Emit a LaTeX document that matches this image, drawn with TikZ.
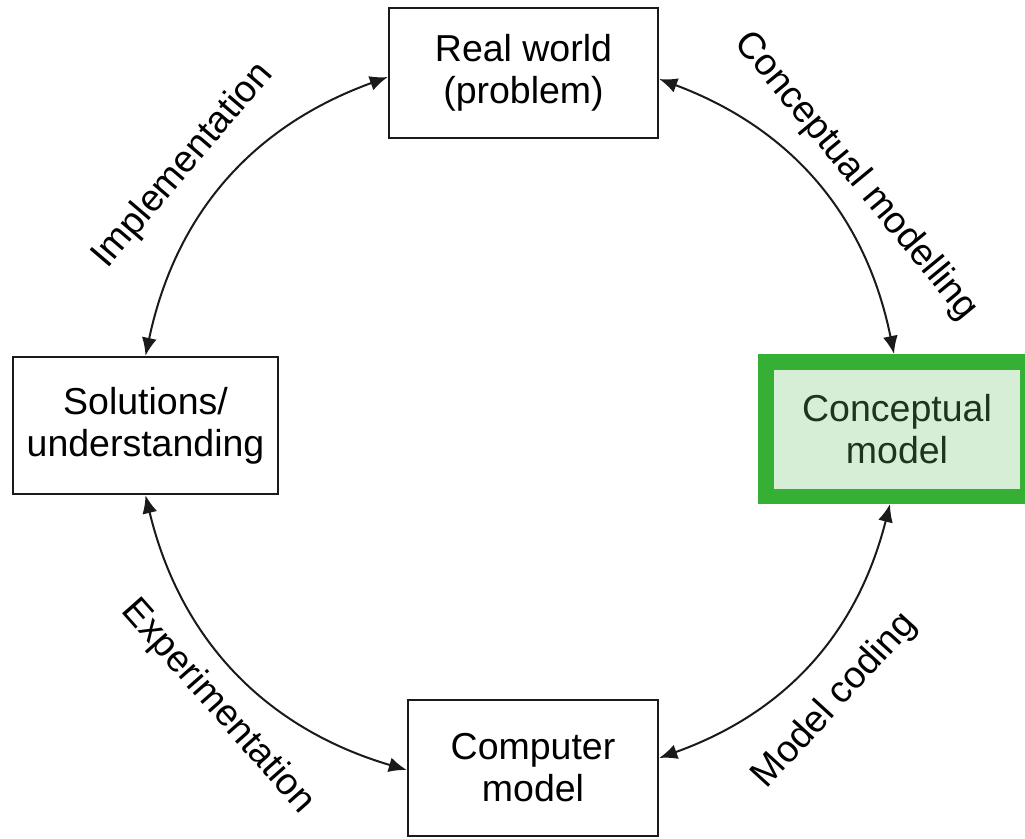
\documentclass[tikz,border=0pt]{standalone}
\usepackage{fontspec}
\setmainfont{Liberation Sans}
\usetikzlibrary{arrows.meta}

\definecolor{boxline}{HTML}{1A1A1A}
\definecolor{hiline}{HTML}{35B035}
\definecolor{hifill}{HTML}{D6EDD6}
\definecolor{hitext}{HTML}{1C361C}

\tikzset{
  txt/.style={font=\fontsize{37.5}{42}\selectfont},
  stage/.style={txt, draw=boxline, line width=2.4pt, fill=white, align=center,
    inner sep=0pt},
  focus/.style={txt, draw=hiline, line width=15.5pt, fill=hifill, text=hitext,
    align=center, inner sep=0pt},
  link/.style={{Latex[length=18pt,width=15pt]}-{Latex[length=18pt,width=15pt]},
    line width=2pt, draw=boxline},
  steplabel/.style={txt, inner sep=0pt}
}

\begin{document}
\begin{tikzpicture}[x=1pt, y=-1pt]
  \useasboundingbox (0,0) rectangle (1025,838);

  % the four stages of the modelling cycle
  \node[stage, minimum width=269pt, minimum height=130pt] (rw) at (523.5,73)
    {Real world\\(problem)};
  \node[stage, minimum width=265pt, minimum height=137pt] (sol) at (145.5,425.5)
    {Solutions/\\understanding};
  \node[stage, minimum width=250pt, minimum height=136pt] (comp) at (533,768)
    {Computer\\model};
  \node[focus, minimum width=262pt, minimum height=134.5pt] (conc) at (897,429)
    {Conceptual\\model};

  % two-way links round the cycle
  \draw[link] ([yshift=-6pt]rw.east) to[bend left=29] ([xshift=-3pt]conc.north);
  \draw[link] ([xshift=-7pt]conc.south) to[bend left=28] ([yshift=10pt]comp.east);
  \draw[link] ([yshift=-2pt]comp.west) to[bend left=30] (sol.south);
  \draw[link] (sol.north) to[bend left=29] ([yshift=-4pt]rw.west);

  % activity names beside each link
  \node[steplabel, rotate=49.5] (limp) at (183,166) {Implementation};
  \node[steplabel, rotate=-50.5] (lcon) at (856,176) {Conceptual modelling};
  \node[steplabel, rotate=-48.5] (lexp) at (218,707) {Experimentation};
  \node[steplabel, rotate=47.6] (lcod) at (835,701) {Model coding};
\end{tikzpicture}
\end{document}
